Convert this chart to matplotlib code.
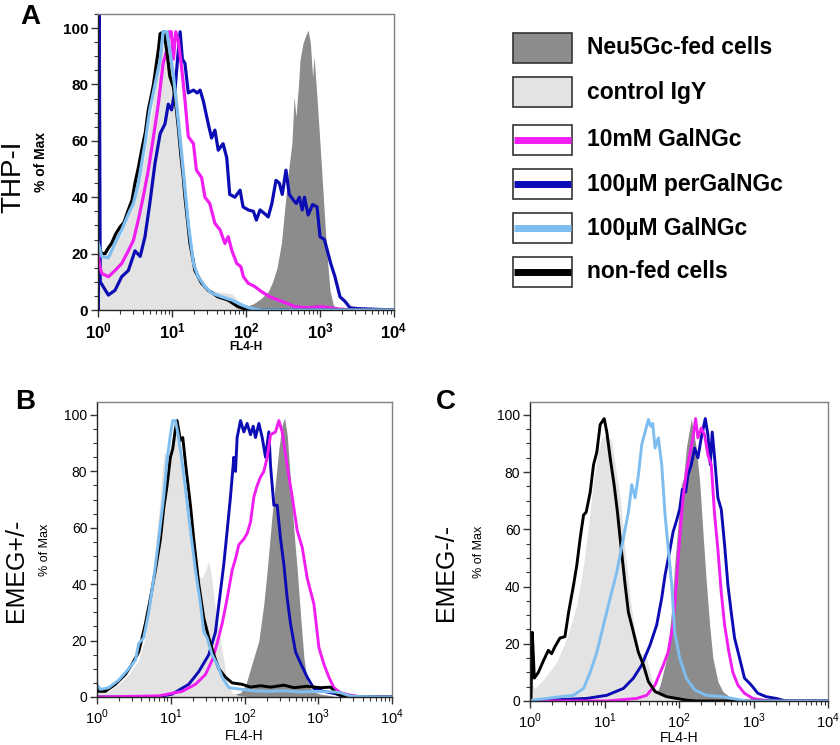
import numpy as np
import matplotlib
matplotlib.use("Agg")
import matplotlib.pyplot as plt
from matplotlib.patches import Rectangle
from matplotlib.lines import Line2D
from matplotlib.ticker import MultipleLocator, LogLocator, NullFormatter, FuncFormatter

plt.rcParams["font.family"] = ["Liberation Sans", "DejaVu Sans"]
plt.rcParams["mathtext.fontset"] = "custom"
plt.rcParams["mathtext.rm"] = "Liberation Sans"
plt.rcParams["mathtext.bf"] = "Liberation Sans:bold"

# x values are log10(FL4-H), y values are % of Max

# ---- panel A: THP-I ----
a_neu5gc_x = [1.20, 1.30, 1.45, 1.60, 1.75, 1.88, 2.00, 2.10, 2.20, 2.30, 2.36, 2.42, 2.48, 2.53, 2.575, 2.62,
              2.65, 2.675, 2.71, 2.73, 2.77, 2.80, 2.84, 2.87, 2.90, 2.92, 2.955, 3.00, 3.045, 3.09, 3.135, 3.18, 3.24]
a_neu5gc_y = [0, 1.2, 1.5, 1.2, 1.8, 1.0, 1.2, 2.2, 4.0, 6.5, 10, 15, 24, 37.8, 49.6, 59,
              75.6, 68.5, 80, 88.7, 94.6, 96.9, 99.3, 94.6, 82.7, 90, 77, 59, 40, 21, 7, 1.8, 0]
a_igy_x = [0.0, 0.05, 0.14, 0.32, 0.50, 0.635, 0.725, 0.79, 0.86, 0.93, 0.99, 1.04, 1.11, 1.18, 1.24, 1.31,
           1.40, 1.535, 1.67, 1.81, 1.89, 1.99, 2.05, 2.12]
a_igy_y = [22, 21, 20, 27, 40, 55, 70, 83, 92, 97, 93, 83, 67, 47, 26, 14,
           8.3, 7, 6.3, 5.7, 3.5, 1.8, 1.0, 0]
a_10mm_x = [0.0, 0.02, 0.05, 0.14, 0.23, 0.32, 0.41, 0.48, 0.545, 0.61, 0.68, 0.75, 0.815, 0.88, 0.93, 0.96,
            0.99, 1.02, 1.05, 1.085, 1.13, 1.175, 1.22, 1.29, 1.33, 1.40, 1.445, 1.51, 1.58, 1.65, 1.715, 1.76,
            1.81, 1.875, 1.93, 1.965, 2.03, 2.12, 2.21, 2.32, 2.44, 2.55, 2.66, 2.82, 3.0, 3.14, 3.27, 3.5, 4.0]
a_10mm_y = [20, 16, 13, 11.8, 14, 16.5, 21, 24.8, 32, 40, 49.6, 61.5, 73, 87.5, 92, 98.7,
            98.7, 89, 98.7, 95.7, 86, 74.5, 61.5, 59, 49.6, 47, 40, 37.8, 30.7, 28.4, 23.6, 26,
            21, 16.5, 15.4, 11.8, 9.5, 8.3, 6.5, 4.7, 3.5, 2.4, 1.2, 0.8, 1.2, 0.8, 0.3, 0, 0]
a_perg_x = [0.005, 0.015, 0.03, 0.07, 0.14, 0.23, 0.32, 0.41, 0.50, 0.57, 0.635, 0.70, 0.77, 0.84, 0.905, 0.95,
            0.995, 1.04, 1.075, 1.11, 1.14, 1.175, 1.22, 1.29, 1.34, 1.38, 1.425, 1.49, 1.535, 1.58, 1.625, 1.69,
            1.74, 1.78, 1.85, 1.92, 1.96, 2.03, 2.10, 2.14, 2.19, 2.26, 2.30, 2.35, 2.405, 2.45, 2.49, 2.54,
            2.585, 2.64, 2.68, 2.72, 2.76, 2.79, 2.84, 2.90, 2.96, 3.0, 3.06, 3.10, 3.145, 3.2, 3.27, 3.34,
            3.405, 3.5, 3.7, 4.0]
a_perg_y = [0, 120, 10, 8.3, 5.3, 7, 11.8, 14, 21, 19, 26, 37.8, 52, 62.6, 66, 73,
            71, 78, 89, 98.7, 89, 87.5, 77, 78, 77, 78, 74, 66, 61, 63.8, 56.7, 59,
            54, 41, 40, 42.5, 36.6, 35.5, 35, 31.9, 35.5, 34, 33, 37.8, 46, 45, 41, 49.6,
            41, 39, 37.8, 40, 35.5, 40, 33.7, 37.4, 36.6, 26, 25, 21, 16.5, 12, 4.7, 3,
            0.8, 0.5, 0.3, 0]
a_100um_x = [0.0, 0.05, 0.14, 0.23, 0.32, 0.41, 0.48, 0.545, 0.635, 0.70, 0.77, 0.84, 0.88, 0.93, 0.97, 1.02,
             1.085, 1.15, 1.22, 1.29, 1.35, 1.445, 1.535, 1.67, 1.81, 1.94, 2.05, 2.2, 4.0]
a_100um_y = [24, 19, 18.5, 23.7, 28.4, 34, 38, 45, 59, 71, 80, 88.7, 98.7, 98.7, 92, 83,
             67, 49.6, 30.7, 16.5, 12, 8.3, 6, 4.7, 3.5, 1.8, 0.7, 0, 0]
a_nonfed_x = [0.0, 0.05, 0.095, 0.14, 0.185, 0.24, 0.30, 0.35, 0.41, 0.46, 0.50, 0.55, 0.59, 0.64, 0.68, 0.72,
              0.75, 0.79, 0.82, 0.84, 0.89, 0.93, 0.97, 1.02, 1.06, 1.085, 1.12, 1.153, 1.176, 1.243, 1.31,
              1.40, 1.49, 1.62, 1.76, 1.89, 1.98, 2.1, 4.0]
a_nonfed_y = [23, 20, 20, 22, 23.7, 27, 29.5, 31, 35.5, 39, 45, 51, 56.7, 63, 71, 76,
              80, 87.5, 93, 98, 98.7, 92, 83, 79, 71, 65, 55, 47, 40, 23.7, 14,
              9.5, 7, 4.7, 3.5, 1.2, 0.4, 0, 0]

# ---- panel B: EMEG+/- ----
b_neu5gc_x = [1.697, 1.946, 2.014, 2.104, 2.195, 2.262, 2.308, 2.376, 2.421, 2.466, 2.511, 2.543, 2.579, 2.624,
              2.67, 2.715, 2.76, 2.805, 2.851, 2.919, 3.032, 3.167, 3.258]
b_neu5gc_y = [0, 1.5, 4, 12, 20, 33, 45, 65, 76.5, 88, 96.5, 99, 93, 76.5,
              59, 45, 29, 14, 5.7, 2, 1, 0.5, 0]
b_igy_x = [0.0, 0.023, 0.158, 0.294, 0.43, 0.566, 0.656, 0.747, 0.814, 0.86, 0.905, 0.937, 0.973, 1.018, 1.063,
           1.109, 1.154, 1.244, 1.312, 1.38, 1.425, 1.471, 1.516, 1.552, 1.597, 1.652, 1.719, 1.765, 1.833,
           1.923, 2.127]
b_igy_y = [2, 1.5, 2, 4.5, 8, 13, 21, 40, 59, 71, 86, 87, 84, 92, 97,
           93, 82, 65, 52, 43, 42, 45, 48, 43, 33, 23, 13, 5.7, 1.5,
           0.5, 0]
b_10mm_x = [0.0, 0.837, 1.154, 1.335, 1.471, 1.561, 1.629, 1.697, 1.765, 1.833, 1.878, 1.923, 1.991, 2.036,
            2.081, 2.127, 2.172, 2.217, 2.262, 2.308, 2.353, 2.421, 2.466, 2.511, 2.579, 2.647, 2.715, 2.783,
            2.851, 2.941, 3.009, 3.077, 3.145, 3.213, 3.303, 3.439, 3.575, 4.0]
b_10mm_y = [0, 0.4, 2, 4.5, 8, 13, 19, 26, 35, 45, 49, 54, 56, 58,
            62, 71, 75, 78, 80, 85, 93, 94, 98, 94, 82, 71, 59, 53,
            42, 33, 17.5, 11.6, 7, 3.3, 1.5, 0.6, 0, 0]
b_perg_x = [0.0, 0.814, 1.018, 1.244, 1.38, 1.516, 1.606, 1.674, 1.719, 1.765, 1.81, 1.855, 1.878, 1.9, 1.946,
            1.991, 2.036, 2.081, 2.118, 2.149, 2.195, 2.24, 2.285, 2.33, 2.353, 2.398, 2.443, 2.489, 2.534,
            2.579, 2.624, 2.692, 2.76, 2.851, 2.941, 3.077, 3.258, 3.348, 4.0]
b_perg_y = [0, 0, 1, 4.5, 9, 15, 23, 37.5, 47, 59, 71, 85, 80, 92, 98,
            94, 97, 93, 96, 92, 97, 92, 85, 94, 82, 68, 68, 56, 47,
            35, 26, 16, 12, 7, 3, 2, 1, 0, 0]
b_100um_x = [0.0, 0.045, 0.158, 0.294, 0.43, 0.52, 0.566, 0.633, 0.701, 0.769, 0.837, 0.905, 0.95, 0.995, 1.027,
             1.063, 1.1, 1.145, 1.199, 1.267, 1.335, 1.403, 1.448, 1.493, 1.561, 1.629, 1.697, 1.787, 1.968,
             2.127, 2.308, 2.534, 2.76, 2.986, 3.213, 3.303, 3.416, 3.484, 4.0]
b_100um_y = [4.5, 2.7, 3.3, 6, 10, 13, 19, 21, 30, 42, 56, 71, 84, 93, 98,
             98, 93, 85, 74, 59, 45, 33, 23, 21, 15, 11.6, 7, 3.3, 2.7,
             2.2, 2, 2.2, 1.8, 2, 1.8, 1.5, 0.5, 0.2, 0]
b_nonfed_x = [0.0, 0.023, 0.113, 0.249, 0.385, 0.475, 0.566, 0.656, 0.724, 0.792, 0.86, 0.905, 0.95, 0.995,
              1.027, 1.063, 1.086, 1.131, 1.163, 1.208, 1.267, 1.312, 1.38, 1.448, 1.516, 1.584, 1.652, 1.742,
              1.833, 1.968, 2.081, 2.217, 2.353, 2.534, 2.67, 2.851, 3.032, 3.167, 3.258, 3.348, 4.0]
b_nonfed_y = [3, 2, 2, 4.5, 8, 11.6, 16, 26, 35, 45, 56, 67, 75, 85,
              88, 95, 98, 91, 92, 81, 68, 56, 40, 28, 21, 15, 10, 7,
              5, 4.5, 3.5, 4, 3.5, 4.2, 3.3, 3.8, 3.3, 3.5, 1, 0.3, 0]

# ---- panel C: EMEG-/- ----
c_neu5gc_x = [1.656, 1.746, 1.835, 1.902, 1.942, 1.987, 2.031, 2.063, 2.098, 2.134, 2.165, 2.196, 2.232, 2.277,
              2.321, 2.366, 2.411, 2.455, 2.522, 2.589, 2.679, 2.813, 2.946]
c_neu5gc_y = [0, 5.6, 15, 32, 47.6, 61.6, 75.6, 78, 88.4, 94, 98.7, 94, 88.4, 76.8,
              59, 41.8, 26.6, 15, 6.8, 3.3, 1.5, 0.5, 0]
c_igy_x = [0.0, 0.013, 0.027, 0.071, 0.228, 0.362, 0.496, 0.629, 0.719, 0.786, 0.853, 0.92, 0.964, 1.031,
           1.098, 1.143, 1.21, 1.277, 1.344, 1.411, 1.478, 1.545, 1.589, 1.656, 1.746, 1.879, 2.058, 2.232]
c_igy_y = [0, 5.6, 5.6, 4.4, 9, 13.8, 22, 33.6, 47.6, 61.6, 76.8, 88, 92, 93,
           90.8, 82.6, 71, 53, 36, 24, 16, 17, 12.6, 5.6, 2, 0.9, 0.5, 0]
c_10mm_x = [0.0, 1.031, 1.433, 1.567, 1.679, 1.79, 1.853, 1.92, 1.964, 2.009, 2.054, 2.098, 2.143, 2.188,
            2.223, 2.254, 2.299, 2.344, 2.388, 2.433, 2.478, 2.522, 2.567, 2.612, 2.67, 2.723, 2.79, 2.879,
            2.991, 3.125, 3.259, 4.0]
c_10mm_y = [0, 0, 0.9, 2, 5.6, 12.6, 17, 26.6, 40.6, 57, 71, 80, 86, 92,
            98.7, 92, 95.4, 93, 86, 82.6, 65, 53, 38, 26.6, 17, 10, 5.6, 2.7,
            0.9, 0.3, 0, 0]
c_perg_x = [0.0, 0.763, 1.031, 1.254, 1.388, 1.5, 1.612, 1.701, 1.768, 1.813, 1.879, 1.92, 1.964, 2.009, 2.045,
            2.089, 2.121, 2.165, 2.21, 2.254, 2.299, 2.353, 2.388, 2.42, 2.446, 2.478, 2.522, 2.567, 2.612,
            2.656, 2.701, 2.746, 2.813, 2.879, 2.969, 3.058, 3.17, 3.304, 3.438, 4.0]
c_perg_y = [0, 0.9, 2, 4.4, 8, 12.6, 19.6, 26.6, 36, 44, 53, 59, 62.8, 67, 74,
            73, 79, 82.6, 88.4, 85, 92, 98.7, 93, 82.6, 94, 85, 71, 67, 54.6,
            40.6, 31, 22, 15, 8, 5.6, 2.7, 1.5, 0.9, 0, 0]
c_100um_x = [0.0, 0.045, 0.406, 0.585, 0.719, 0.808, 0.897, 0.987, 1.076, 1.165, 1.254, 1.321, 1.366, 1.411,
             1.455, 1.5, 1.545, 1.589, 1.621, 1.647, 1.679, 1.723, 1.768, 1.813, 1.857, 1.902, 1.942, 2.009,
             2.098, 2.21, 2.366, 2.589, 2.902, 4.0]
c_100um_y = [0.3, 0.3, 1.5, 2, 4.4, 10, 17, 26.6, 36, 45, 57, 66, 75.6, 71,
             79, 89.6, 94, 98.4, 96, 97, 88.4, 92, 82.6, 65, 53, 40.6, 24, 15,
             8, 3.9, 2, 1.5, 0, 0]
c_nonfed_x = [0.013, 0.031, 0.058, 0.112, 0.179, 0.246, 0.29, 0.335, 0.402, 0.469, 0.518, 0.585, 0.629, 0.674,
              0.719, 0.754, 0.808, 0.853, 0.897, 0.942, 0.996, 1.031, 1.076, 1.129, 1.174, 1.219, 1.277, 1.321,
              1.379, 1.455, 1.522, 1.589, 1.679, 1.835, 1.969, 2.098, 2.232, 4.0]
c_nonfed_y = [0, 24, 8, 10, 14, 17.7, 16.5, 19, 22, 22.5, 31, 40.6, 47.6, 57,
              65, 66, 73, 82.6, 87, 96.6, 98.7, 94, 85, 75.6, 66, 54.6, 40.6, 31,
              25, 17, 12.6, 6.8, 3.3, 1.5, 0.9, 0.3, 0, 0]

legend_labels = ["Neu5Gc-fed cells", "control IgY", "10mM GalNGc", "100\u00b5M perGalNGc",
                 "100\u00b5M GalNGc", "non-fed cells"]

C_NEU = "#8c8c8c"
C_IGY = "#e3e3e3"
C_MAG = "#f01ef0"
C_BLUE = "#0c0cb4"
C_LBLUE = "#7dbdf0"
C_BLACK = "#000000"

W, H = 840, 745
fig = plt.figure(figsize=(8.4, 7.45), dpi=100)


def fx(px):
    return px / W


def fy(py):
    return 1 - py / H


def make_axes(left, right, top, bottom):
    return fig.add_axes([fx(left), fy(bottom), fx(right - left), (bottom - top) / H])


def draw_panel(ax, data, lw):
    neu, igy, mag, perg, lblue, black = data
    x = 10 ** np.array(neu[0])
    ax.fill_between(x, neu[1], color=C_NEU, lw=0)
    x = 10 ** np.array(igy[0])
    ax.fill_between(x, igy[1], color=C_IGY, lw=0)
    ax.plot(10 ** np.array(perg[0]), perg[1], color=C_BLUE, lw=lw)
    ax.plot(10 ** np.array(mag[0]), mag[1], color=C_MAG, lw=lw)
    ax.plot(10 ** np.array(black[0]), black[1], color=C_BLACK, lw=lw)
    ax.plot(10 ** np.array(lblue[0]), lblue[1], color=C_LBLUE, lw=lw)


def style_axes(ax, ytop, bold, ytick_size, xtick_size, ylab_x, ylab_size, xlab_y, xlab_size):
    ax.set_xscale("log")
    ax.set_xlim(1, 1e4)
    ax.set_ylim(0, ytop)
    ax.yaxis.set_major_locator(MultipleLocator(20))
    ax.yaxis.set_minor_locator(MultipleLocator(5))
    ax.xaxis.set_major_locator(LogLocator(base=10, numticks=10))
    ax.xaxis.set_minor_locator(LogLocator(base=10, subs=np.arange(2, 10), numticks=10))
    ax.xaxis.set_minor_formatter(NullFormatter())
    if bold:
        ax.xaxis.set_major_formatter(FuncFormatter(lambda v, p: r"$\mathbf{10^{%d}}$" % round(np.log10(v))))
    else:
        ax.xaxis.set_major_formatter(FuncFormatter(lambda v, p: r"$10^{%d}$" % round(np.log10(v))))
    wt = "bold" if bold else "normal"
    ax.tick_params(axis="both", which="major", direction="out", length=5, width=1, color="#333333")
    ax.tick_params(axis="both", which="minor", direction="out", length=3, width=0.8, color="#333333")
    ax.tick_params(axis="y", labelsize=ytick_size, pad=2)
    ax.tick_params(axis="x", labelsize=xtick_size, pad=3)
    for lab in ax.get_yticklabels():
        lab.set_fontweight(wt)
    for sp in ["top", "right"]:
        ax.spines[sp].set_color("#808080")
        ax.spines[sp].set_linewidth(1.0)
    for sp in ["left", "bottom"]:
        ax.spines[sp].set_color("#222222")
        ax.spines[sp].set_linewidth(1.0)
    ax.set_ylabel("% of Max", fontsize=ylab_size, fontweight=wt)
    ax.yaxis.set_label_coords(ylab_x, 0.5)
    ax.set_xlabel("FL4-H", fontsize=xlab_size, fontweight=wt)
    ax.xaxis.set_label_coords(0.5, xlab_y)


axA = make_axes(98, 394, 14, 310)
draw_panel(axA, [(a_neu5gc_x, a_neu5gc_y), (a_igy_x, a_igy_y), (a_10mm_x, a_10mm_y),
                 (a_perg_x, a_perg_y), (a_100um_x, a_100um_y), (a_nonfed_x, a_nonfed_y)], 2.3)
style_axes(axA, 105, True, 11, 12, -0.17, 10, -0.105, 8.5)

axB = make_axes(97, 392, 402, 697)
draw_panel(axB, [(b_neu5gc_x, b_neu5gc_y), (b_igy_x, b_igy_y), (b_10mm_x, b_10mm_y),
                 (b_perg_x, b_perg_y), (b_100um_x, b_100um_y), (b_nonfed_x, b_nonfed_y)], 2.1)
style_axes(axB, 104.6, False, 10, 10.5, -0.155, 9, -0.11, 10)

axC = make_axes(530, 828, 402, 701)
draw_panel(axC, [(c_neu5gc_x, c_neu5gc_y), (c_igy_x, c_igy_y), (c_10mm_x, c_10mm_y),
                 (c_perg_x, c_perg_y), (c_100um_x, c_100um_y), (c_nonfed_x, c_nonfed_y)], 2.1)
style_axes(axC, 104.5, False, 10, 10.5, -0.15, 9, -0.10, 10)

# panel letters and row labels
fig.text(fx(30), fy(17), "A", fontsize=20, fontweight="bold", ha="center", va="center")
fig.text(fx(25), fy(402), "B", fontsize=20, fontweight="bold", ha="center", va="center")
fig.text(fx(446), fy(402), "C", fontsize=20, fontweight="bold", ha="center", va="center")
fig.text(fx(13), fy(177), "THP-I", fontsize=20, rotation=90, ha="center", va="center")
fig.text(fx(16), fy(570), "EMEG+/-", fontsize=18, rotation=90, ha="center", va="center")
fig.text(fx(446), fy(572), "EMEG-/-", fontsize=18, rotation=90, ha="center", va="center")

# legend
leg_fill = [C_NEU, C_IGY, None, None, None, None]
leg_line = [None, None, C_MAG, C_BLUE, C_LBLUE, C_BLACK]
row_tops = [33, 77, 125, 169, 213, 257]
bx0, bx1, bh = 513, 572, 30
for lab, fc, lc, top in zip(legend_labels, leg_fill, leg_line, row_tops):
    fig.add_artist(Rectangle((fx(bx0), fy(top + bh)), fx(bx1 - bx0), bh / H,
                             transform=fig.transFigure, facecolor=fc if fc else "white",
                             edgecolor="#333333", lw=1.2))
    if lc:
        yc = fy(top + bh / 2)
        fig.add_artist(Line2D([fx(bx0 + 1), fx(bx1 - 1)], [yc, yc], transform=fig.transFigure,
                              color=lc, lw=5, solid_capstyle="butt"))
    fig.text(fx(587), fy(top + bh / 2), lab, fontsize=16.5, fontweight="bold", ha="left", va="center")

fig.savefig("out.png", dpi=100)
